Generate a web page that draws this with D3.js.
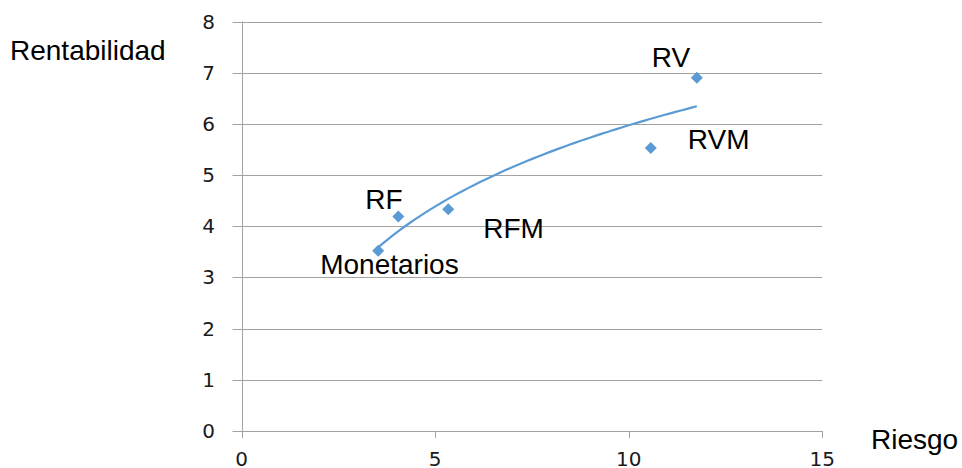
<!DOCTYPE html>
<html>
<head>
<meta charset="utf-8">
<script src="https://cdn.jsdelivr.net/npm/d3@7/dist/d3.min.js"></script>
<style>
  html, body { margin: 0; padding: 0; background: #fff; }
  svg { display: block; }
</style>
</head>
<body>
<svg id="chart" width="962" height="468"></svg>
<script>
// Fund categories: risk (x) vs. return (y)
const names = ["Monetarios", "RF", "RFM", "RVM", "RV"];
const riesgo = [3.53, 4.05, 5.34, 10.57, 11.76];
const rentabilidad = [3.52, 4.19, 4.33, 5.53, 6.90];
const xTicks = [0, 5, 10, 15];
const yTicks = [0, 1, 2, 3, 4, 5, 6, 7, 8];

const svg = d3.select("#chart");
const blue = "#5b9bd5";
const grid = "#a3a3a3";

const x = d3.scaleLinear().domain([0, 15]).range([241.5, 822.3]);
const y = d3.scaleLinear().domain([0, 8]).range([431, 21.5]);

// Horizontal gridlines (with small left tick marks)
svg.append("g").selectAll("line").data(yTicks).join("line")
  .attr("x1", x(0) - 9).attr("x2", x(15))
  .attr("y1", d => Math.round(y(d)) + 0.5).attr("y2", d => Math.round(y(d)) + 0.5)
  .attr("stroke", grid).attr("stroke-width", 1);

// Vertical axis line
svg.append("line")
  .attr("x1", Math.round(x(0)) + 0.5).attr("x2", Math.round(x(0)) + 0.5)
  .attr("y1", y(8)).attr("y2", y(0) + 7)
  .attr("stroke", grid).attr("stroke-width", 1);

// X axis tick marks
svg.append("g").selectAll("line").data(xTicks).join("line")
  .attr("x1", d => Math.round(x(d)) + 0.5).attr("x2", d => Math.round(x(d)) + 0.5)
  .attr("y1", y(0)).attr("y2", y(0) + 7)
  .attr("stroke", grid).attr("stroke-width", 1);

const tickFont = "'DejaVu Sans', Verdana, sans-serif";

svg.append("g").selectAll("text").data(yTicks).join("text")
  .attr("x", 215).attr("y", d => y(d) + 7)
  .attr("text-anchor", "end")
  .attr("font-family", tickFont).attr("font-size", 20)
  .attr("fill", "#1a1a1a")
  .text(d => d);

svg.append("g").selectAll("text").data(xTicks).join("text")
  .attr("x", d => x(d)).attr("y", 466)
  .attr("text-anchor", "middle")
  .attr("font-family", tickFont).attr("font-size", 20)
  .attr("fill", "#1a1a1a")
  .text(d => d);

// Logarithmic trend line: y = a + b ln(x), least squares on the points
const lx = riesgo.map(Math.log);
const mx = d3.mean(lx), my = d3.mean(rentabilidad);
const b = d3.sum(lx, (v, i) => (v - mx) * (rentabilidad[i] - my)) / d3.sum(lx, v => (v - mx) ** 2);
const a = my - b * mx;
const x0 = d3.min(riesgo), x1 = d3.max(riesgo);
const trend = d3.range(0, 61).map(i => {
  const xv = x0 + (x1 - x0) * i / 60;
  return [xv, a + b * Math.log(xv)];
});
svg.append("path")
  .datum(trend)
  .attr("d", d3.line().x(d => x(d[0])).y(d => y(d[1])))
  .attr("fill", "none").attr("stroke", blue).attr("stroke-width", 2.2);

// Diamond markers
const diamond = d3.symbol().type(d3.symbolSquare).size(72);
svg.append("g").selectAll("path").data(names).join("path")
  .attr("d", diamond)
  .attr("transform", (d, i) => `translate(${x(riesgo[i])},${y(rentabilidad[i])}) rotate(45)`)
  .attr("fill", blue);

// Point labels, each offset from its marker
const labelOffset = {
  "Monetarios": [-58, 23],
  "RF": [-33, -8],
  "RFM": [35, 29],
  "RVM": [37, 1],
  "RV": [-45, -11]
};
const labelFont = "'Liberation Sans', Arial, sans-serif";
svg.append("g").selectAll("text").data(names).join("text")
  .attr("x", (d, i) => x(riesgo[i]) + labelOffset[d][0])
  .attr("y", (d, i) => y(rentabilidad[i]) + labelOffset[d][1])
  .attr("font-family", labelFont).attr("font-size", 28)
  .attr("fill", "#000")
  .text(d => d);

// Axis titles
svg.append("text").attr("x", 10).attr("y", 60)
  .attr("font-family", labelFont).attr("font-size", 28).attr("fill", "#000")
  .text("Rentabilidad");
svg.append("text").attr("x", 871).attr("y", 449)
  .attr("font-family", labelFont).attr("font-size", 28).attr("fill", "#000")
  .text("Riesgo");
</script>
</body>
</html>
